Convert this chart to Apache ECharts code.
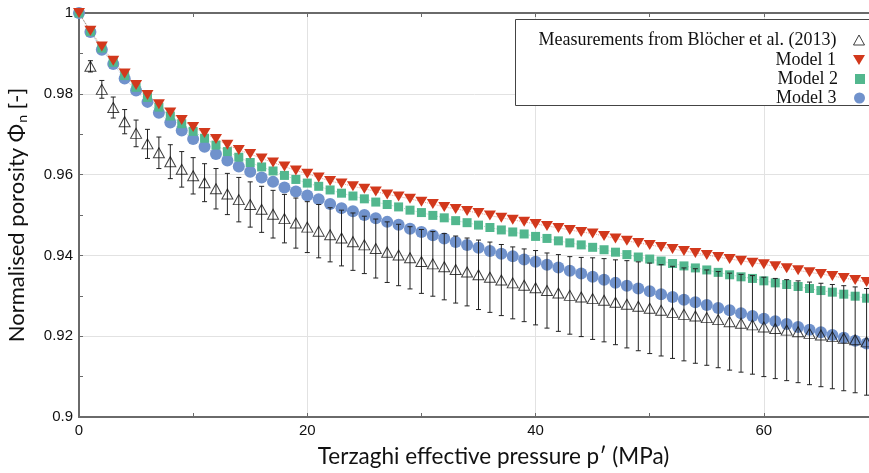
<!DOCTYPE html>
<html>
<head>
<meta charset="utf-8">
<script src="https://cdn.jsdelivr.net/npm/echarts@6/dist/echarts.min.js"></script>
<style>html,body{margin:0;padding:0;background:#fff;}#chart{width:869px;height:473px;}</style>
</head>
<body>
<div id="chart"></div>
<script>
const pressure = [0,1,2,3,4,5,6,7,8,9,10,11,12,13,14,15,16,17,18,19,20,21,22,23,24,25,26,27,28,29,30,31,32,33,34,35,36,37,38,39,40,41,42,43,44,45,46,47,48,49,50,51,52,53,54,55,56,57,58,59,60,61,62,63,64,65,66,67,68,69];

// measurement at 0 MPa is hidden under the model markers in the reference
const measured = [null,0.9868,0.9811,0.9766,0.9731,0.9702,0.9676,0.9654,0.9632,0.9613,0.9597,0.958,0.9565,0.9552,0.9538,0.9526,0.9514,0.9502,0.9491,0.948,0.947,0.946,0.9451,0.9443,0.9434,0.9426,0.9417,0.9408,0.9401,0.9394,0.9385,0.9379,0.9372,0.9365,0.9359,0.9352,0.9346,0.9339,0.9332,0.9326,0.932,0.9313,0.9307,0.9301,0.9297,0.9293,0.9289,0.9284,0.9279,0.9274,0.9269,0.9264,0.9259,0.9254,0.925,0.9246,0.9241,0.9236,0.9232,0.9228,0.9223,0.9219,0.9215,0.9211,0.9207,0.9203,0.9199,0.9195,0.9191,0.9186];

const measuredErr = [0,0.0014,0.0022,0.0026,0.003,0.0033,0.0036,0.0039,0.0042,0.0044,0.0045,0.0047,0.005,0.0051,0.0055,0.0056,0.0057,0.0059,0.006,0.0062,0.0063,0.0066,0.0067,0.0069,0.0071,0.0071,0.0073,0.0075,0.0076,0.0077,0.0079,0.008,0.0082,0.0083,0.0084,0.0086,0.0087,0.0088,0.0089,0.009,0.0092,0.0093,0.0095,0.0096,0.0098,0.0101,0.0103,0.0105,0.0108,0.011,0.0112,0.0113,0.0114,0.0115,0.0117,0.0118,0.0119,0.012,0.0121,0.0122,0.0123,0.0124,0.0125,0.0126,0.0127,0.0128,0.0129,0.013,0.0131,0.0132];

const model1 = [1.0,0.9956,0.9917,0.9882,0.985,0.9822,0.9797,0.9774,0.9754,0.9735,0.9718,0.9703,0.9688,0.9674,0.9661,0.9651,0.964,0.963,0.962,0.961,0.9602,0.9593,0.9584,0.9578,0.9571,0.9565,0.9558,0.9551,0.9546,0.954,0.9533,0.9527,0.952,0.9515,0.951,0.9505,0.9499,0.9493,0.9488,0.9483,0.9478,0.9473,0.9468,0.9463,0.9458,0.9454,0.9448,0.9442,0.9436,0.9431,0.9426,0.9421,0.9416,0.9411,0.9406,0.9401,0.9396,0.9391,0.9387,0.9382,0.9378,0.9373,0.9368,0.9363,0.9358,0.9354,0.9349,0.9344,0.9339,0.9334];

const model2 = [1.0,0.9954,0.9913,0.9878,0.9845,0.9816,0.9791,0.9767,0.9745,0.9726,0.9707,0.969,0.9673,0.9657,0.9643,0.963,0.9619,0.9609,0.9598,0.9588,0.9579,0.9571,0.9562,0.9554,0.9547,0.954,0.9532,0.9526,0.952,0.9512,0.9506,0.9499,0.9493,0.9486,0.9481,0.9475,0.9469,0.9463,0.9458,0.9453,0.9447,0.9442,0.9436,0.9431,0.9426,0.942,0.9414,0.9408,0.9402,0.9396,0.9391,0.9386,0.938,0.9374,0.9369,0.9364,0.9358,0.9352,0.9347,0.9343,0.9337,0.9332,0.9328,0.9323,0.9318,0.9313,0.9309,0.9304,0.9299,0.9294];

const model3 = [1.0,0.9953,0.9909,0.9874,0.9838,0.9808,0.978,0.9753,0.9729,0.9709,0.9688,0.9669,0.9651,0.9635,0.962,0.9607,0.9593,0.9582,0.9568,0.9558,0.9548,0.9539,0.9527,0.9517,0.9509,0.95,0.9492,0.9483,0.9476,0.9466,0.9458,0.945,0.9442,0.9433,0.9426,0.9419,0.9411,0.9404,0.9398,0.939,0.9384,0.9377,0.937,0.9362,0.9355,0.9347,0.934,0.9332,0.9325,0.9318,0.9311,0.9304,0.9297,0.929,0.9284,0.9277,0.927,0.9264,0.9257,0.925,0.9243,0.9237,0.923,0.9223,0.9216,0.921,0.9203,0.9196,0.9189,0.9182];

const seriesNames = ['Measurements from Blöcher et al. (2013)', 'Model 1', 'Model 2', 'Model 3'];
const xTitle = 'Terzaghi effective pressure p\u2032 (MPa)';

const pairs = (ys) => pressure.map((x, i) => [x, ys[i]]).filter(p => p[1] !== null);
const errData = pressure.map((x, i) => measured[i] === null ? null : [x, measured[i] - measuredErr[i], measured[i] + measuredErr[i]]).filter(p => p !== null);

const colors = { m1: '#d2381c', m2: '#52b78e', m3: '#7092cc' };
const axisColor = '#6a6a6a';
const labelFont = { fontFamily: 'Liberation Sans', fontSize: 15, color: '#111' };
const downTri = 'path://M0,0L12,0L6,10Z';

const chart = echarts.init(document.getElementById('chart'), null, { renderer: 'canvas' });

function modelSeries(name, data, color, symbol, size, rotate) {
  return {
    name: name, type: 'line', data: data,
    symbol: symbol, symbolSize: size, symbolRotate: rotate || 0,
    showAllSymbol: true,
    itemStyle: { color: color },
    lineStyle: { color: color, width: 1, type: 'dotted', opacity: 0.5 },
    emphasis: { disabled: true },
    animation: false, z: 2
  };
}

const legendBase = {
  orient: 'vertical', align: 'right', padding: 0, itemWidth: 12, itemHeight: 11,
  right: 4, selectedMode: false,
  textStyle: { fontFamily: 'Liberation Serif', fontSize: 18, color: '#111', padding: [0, 12, 0, 0] }
};

chart.setOption({
  animation: false,
  backgroundColor: '#fff',
  grid: { left: 79, top: 13, right: -9, bottom: 56, containLabel: false, outerBoundsMode: 'none' },
  xAxis: [{
    type: 'value', min: 0, max: 70, interval: 20,
    name: xTitle, nameLocation: 'middle', nameGap: 28,
    nameTextStyle: { fontFamily: 'Lato', fontSize: 22.5, color: '#111', padding: [0, 0, 0, 30] },
    axisLine: { show: true, onZero: false, lineStyle: { color: axisColor, width: 2 } },
    axisTick: { show: true, inside: true, length: 4, lineStyle: { color: axisColor, width: 1 } },
    minorTick: { show: true, splitNumber: 2, length: 4, lineStyle: { color: axisColor, width: 1 } },
    axisLabel: Object.assign({ margin: 6, formatter: v => (v >= 70 ? '' : String(v)) }, labelFont),
    splitLine: { show: true, lineStyle: { color: '#e2e2e2', width: 1 } }
  }, {
    type: 'value', position: 'top', min: 0, max: 70, interval: 20,
    axisLine: { show: true, onZero: false, lineStyle: { color: axisColor, width: 2 } },
    axisTick: { show: true, inside: true, length: 4, lineStyle: { color: axisColor, width: 1 } },
    minorTick: { show: true, splitNumber: 2, length: 4, lineStyle: { color: axisColor, width: 1 } },
    axisLabel: { show: false }, splitLine: { show: false }
  }],
  yAxis: {
    type: 'value', min: 0.9, max: 1.0, interval: 0.02,
    name: 'Normalised porosity Φ{sub|n} [-]', nameLocation: 'middle', nameGap: 50,
    nameTextStyle: {
      fontFamily: 'Lato', fontSize: 22, color: '#111',
      rich: { sub: { fontFamily: 'Lato', fontSize: 14, color: '#111', verticalAlign: 'bottom', padding: [11, 0, 0, 1] } }
    },
    axisLine: { show: true, onZero: false, lineStyle: { color: axisColor, width: 2 } },
    axisTick: { show: true, inside: true, length: 4, lineStyle: { color: axisColor, width: 1 } },
    minorTick: { show: true, splitNumber: 2, length: 4, lineStyle: { color: axisColor, width: 1 } },
    axisLabel: Object.assign({ margin: 6, formatter: v => String(parseFloat(v.toFixed(2))) }, labelFont),
    splitLine: { show: true, lineStyle: { color: '#e2e2e2', width: 1 } }
  },
  legend: [
    Object.assign({}, legendBase, { data: [{ name: seriesNames[0], icon: 'triangle', itemStyle: { color: 'rgba(255,255,255,0)', borderColor: '#111', borderWidth: 1 } }], top: 31, itemWidth: 11, itemHeight: 10 }),
    Object.assign({}, legendBase, { data: [{ name: seriesNames[1], icon: downTri, itemStyle: { color: colors.m1 } }], top: 51 }),
    Object.assign({}, legendBase, { data: [{ name: seriesNames[2], icon: 'rect', itemStyle: { color: colors.m2 } }], top: 70, itemWidth: 10, itemHeight: 10 }),
    Object.assign({}, legendBase, { data: [{ name: seriesNames[3], icon: 'circle', itemStyle: { color: colors.m3 } }], top: 89 })
  ],
  graphic: [{
    type: 'rect', z: 3, silent: true,
    shape: { x: 515.5, y: 19.5, width: 400, height: 86 },
    style: { fill: '#fff', stroke: '#444', lineWidth: 1 }
  }],
  series: [
    modelSeries(seriesNames[3], pairs(model3), colors.m3, 'circle', 12),
    modelSeries(seriesNames[2], pairs(model2), colors.m2, 'rect', 9),
    modelSeries(seriesNames[1], pairs(model1), colors.m1, 'triangle', [12, 10], 180),
    {
      name: seriesNames[0], type: 'scatter', data: pairs(measured),
      symbol: 'triangle', symbolSize: [11, 10],
      itemStyle: { color: 'rgba(255,255,255,0)', borderColor: '#111', borderWidth: 1 },
      emphasis: { disabled: true }, z: 4
    },
    {
      name: 'errors', type: 'custom', data: errData, z: 4, silent: true,
      renderItem: function (params, api) {
        const x = api.value(0), lo = api.value(1), hi = api.value(2);
        if (hi - lo <= 0) return null;
        const p1 = api.coord([x, hi]), p2 = api.coord([x, lo]);
        const hw = 2.5, st = { stroke: '#222', lineWidth: 1 };
        return {
          type: 'group', children: [
            { type: 'line', shape: { x1: p1[0], y1: p1[1], x2: p2[0], y2: p2[1] }, style: st },
            { type: 'line', shape: { x1: p1[0] - hw, y1: p1[1], x2: p1[0] + hw, y2: p1[1] }, style: st },
            { type: 'line', shape: { x1: p2[0] - hw, y1: p2[1], x2: p2[0] + hw, y2: p2[1] }, style: st }
          ]
        };
      }
    }
  ]
});
</script>
</body>
</html>
